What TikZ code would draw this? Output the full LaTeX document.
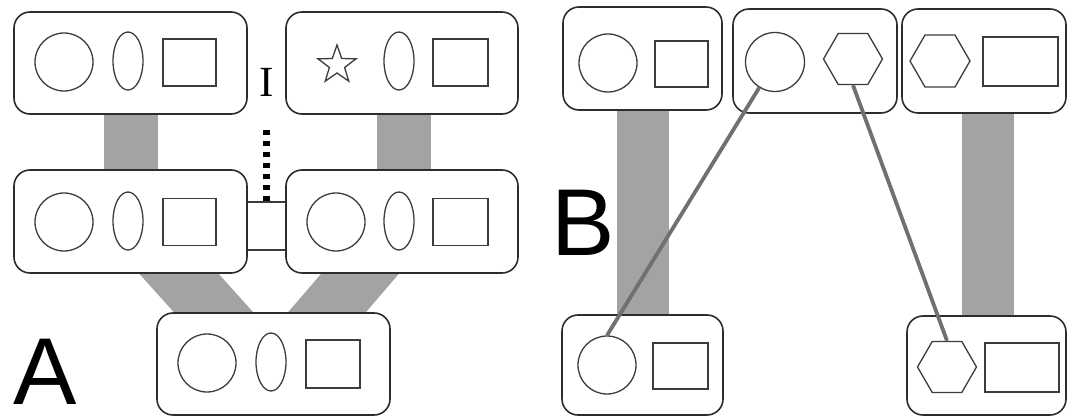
\documentclass[tikz,border=0pt]{standalone}
\usepackage{fontspec}
\usetikzlibrary{shapes.geometric,calc}
\newfontfamily\labfont{Liberation Sans}
\newfontfamily\serlab{Liberation Serif}
\definecolor{barc}{RGB}{163,163,165}
\definecolor{linkc}{RGB}{112,112,112}
\definecolor{edgec}{RGB}{45,45,45}
\definecolor{shapec}{RGB}{60,60,60}
\pgfdeclarelayer{bg}
\pgfsetlayers{bg,main}
\begin{document}
\begin{tikzpicture}[x=1pt,y=-1pt,
  box/.style={draw=edgec, line width=1.6pt, rounded corners=16pt, fill=white, inner sep=0pt},
  circ/.style={circle, draw=shapec, line width=1.3pt, inner sep=0pt, minimum size=58pt},
  ell/.style={ellipse, draw=shapec, line width=1.3pt, inner sep=0pt, minimum width=30pt, minimum height=58pt},
  sq/.style={rectangle, draw=shapec, line width=1.3pt, inner sep=0pt},
  hex/.style={regular polygon, regular polygon sides=6, draw=shapec, line width=1.3pt, inner sep=0pt, minimum size=59pt},
  starsh/.style={star, star points=5, star point ratio=2.5, draw=shapec, line width=1.3pt, inner sep=0pt, minimum size=40pt},
  bar/.style={draw=barc, line cap=butt},
  link/.style={draw=linkc, line width=3.8pt},
  rung/.style={draw=shapec, line width=1.1pt},
  dashline/.style={draw=black, line width=7pt, dash pattern=on 5.5pt off 5.5pt},
  biglab/.style={anchor=base west, inner sep=0pt, font=\labfont\fontsize{95}{95}\selectfont}
]
\useasboundingbox (0,0) rectangle (1072,417);

% ---------- Panel A boxes ----------
\node[box, minimum width=233pt, minimum height=102pt] (tl) at (130.5,63) {};
\node[box, minimum width=232pt, minimum height=102pt] (tr) at (402,63) {};
\node[box, minimum width=233pt, minimum height=103pt] (ml) at (130.5,221.5) {};
\node[box, minimum width=232pt, minimum height=103pt] (mr) at (402,221.5) {};
\node[box, minimum width=233pt, minimum height=102pt] (bt) at (273.5,364) {};

% inner shapes A
\node[circ] (tlc) at (64,62) {};
\node[ell] (tle) at (128,61) {};
\node[sq, minimum width=53pt, minimum height=47pt] (tlr) at (189.5,62.5) {};

\node[starsh] (trs) at (337,65) {};
\node[ell] (tre) at (399,61) {};
\node[sq, minimum width=55pt, minimum height=47pt] (trr) at (460.5,62.5) {};

\node[circ] (mlc) at (64,222) {};
\node[ell] (mle) at (128,221) {};
\node[sq, minimum width=53pt, minimum height=47pt] (mlr) at (189.5,222) {};

\node[circ] (mrc) at (336,222) {};
\node[ell] (mre) at (399,221) {};
\node[sq, minimum width=55pt, minimum height=47pt] (mrr) at (460.5,222) {};

\node[circ] (btc) at (207,363) {};
\node[ell] (bte) at (271,362) {};
\node[sq, minimum width=54pt, minimum height=48pt] (btr) at (333,364) {};

% ---------- Panel B boxes ----------
\node[box, minimum width=159pt, minimum height=103pt] (b1) at (642.5,58.5) {};
\node[box, minimum width=164pt, minimum height=104pt] (b2) at (815,61) {};
\node[box, minimum width=164pt, minimum height=104pt] (b3) at (984,61) {};
\node[box, minimum width=161pt, minimum height=100pt] (b4) at (642.5,365) {};
\node[box, minimum width=159pt, minimum height=99pt] (b5) at (986.5,365.5) {};

\node[circ] (b1c) at (608,63) {};
\node[sq, minimum width=53pt, minimum height=46pt] (b1r) at (681.5,64) {};
\node[circ, minimum size=59pt] (b2c) at (775,62) {};
\node[hex] (b2h) at (853,59) {};
\node[hex, minimum size=60pt] (b3h) at (940,61) {};
\node[sq, minimum width=75pt, minimum height=49pt] (b3r) at (1020.5,61.5) {};
\node[circ] (b4c) at (607,365) {};
\node[sq, minimum width=55pt, minimum height=46pt] (b4r) at (680.5,366) {};
\node[hex] (b5h) at (947,367) {};
\node[sq, minimum width=74pt, minimum height=49pt] (b5r) at (1022,367.5) {};

% ---------- wide grey bands (behind) ----------
\begin{pgfonlayer}{bg}
  \draw[bar, line width=54pt] (tl.south) -- (ml.north);
  \draw[bar, line width=54pt] ([xshift=2pt]tr.south) -- ([xshift=2pt]mr.north);
  \draw[bar, line width=59pt, shorten <=-30pt, shorten >=-30pt]
    ([xshift=48.5pt]ml.south) -- ([xshift=-60pt]bt.north);
  \draw[bar, line width=59pt, shorten <=-30pt, shorten >=-30pt]
    ([xshift=-42pt]mr.south) -- ([xshift=53.5pt]bt.north);
  \draw[bar, line width=52pt] (b1.south) -- (b4.north);
  \draw[bar, line width=52pt] ([xshift=4pt]b3.south) -- ([xshift=1.5pt]b5.north);
\end{pgfonlayer}

% ---------- ladder link between middle boxes ----------
\draw[rung] ([yshift=19.5pt]ml.east) -- coordinate[pos=0.5] (cmid) ([yshift=19.5pt]mr.west);
\draw[rung] ([yshift=-28.5pt]ml.east) -- ([yshift=-28.5pt]mr.west);

% label I and dotted line
\node[anchor=base, inner sep=0pt, font=\serlab\fontsize{43}{43}\selectfont] (li) at (267,97) {I};
\coordinate (dtop) at (266.5,130);
\draw[dashline] (dtop) -- (cmid);

% ---------- thin links in panel B ----------
\draw[link] (b2c) -- (b4c.north);
\draw[link] (b2h.south) -- (b5h.north);

% ---------- panel letters ----------
\node[biglab] (la) at (13,404) {A};
\node[biglab] (lb) at (551,255) {B};
\end{tikzpicture}
\end{document}
